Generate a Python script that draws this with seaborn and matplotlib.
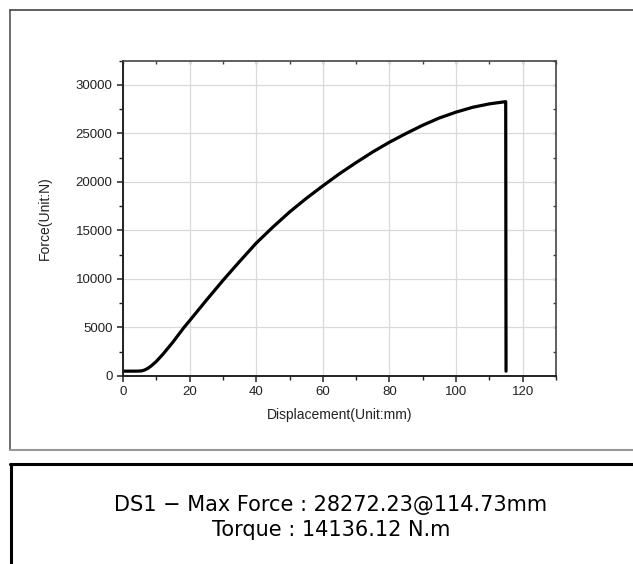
import matplotlib
matplotlib.use("Agg")
import matplotlib.pyplot as plt
from matplotlib.lines import Line2D
from matplotlib.ticker import MultipleLocator
import seaborn as sns
import pandas as pd

sns.set_theme(style="ticks")
plt.rcParams['font.family'] = ['Liberation Sans', 'DejaVu Sans']

# displacement (mm) / force (N)
displacement = [0, 2, 4, 5.5, 6.5, 7.5, 8.5, 10, 12, 15, 18.3, 20, 25, 30, 35, 40, 45, 50, 55,
                60, 65, 70, 75, 80, 85, 90, 95, 100, 105, 110, 114.73, 114.9, 115.0]
force = [500, 500, 500, 520, 620, 800, 1050, 1500, 2250, 3500, 5000, 5700, 7800, 9850, 11800,
         13700, 15350, 16900, 18300, 19600, 20850, 22000, 23100, 24100, 25000, 25850,
         26600, 27200, 27700, 28050, 28272.23, 28272.23, 500]

x_ticks = [0, 20, 40, 60, 80, 100, 120]
y_ticks = [0, 5000, 10000, 15000, 20000, 25000, 30000]

summary_line1 = "DS1 \u2212 Max Force : 28272.23@114.73mm"
summary_line2 = "Torque : 14136.12 N.m"

df = pd.DataFrame({'disp': displacement, 'force': force})

fig = plt.figure(figsize=(6.33, 5.64), dpi=100)
fig.patch.set_facecolor('white')
ax = fig.add_axes([123/633, 1 - 376/564, (556-123)/633, (376-60.7)/564])

sns.lineplot(data=df, x='disp', y='force', sort=False, estimator=None,
             color='black', linewidth=2.3, ax=ax)

ax.set_xlim(0, 130)
ax.set_ylim(0, 32500)
ax.set_xticks(x_ticks)
ax.set_yticks(y_ticks)
ax.xaxis.set_minor_locator(MultipleLocator(10))
ax.yaxis.set_minor_locator(MultipleLocator(2500))
ax.grid(True, which='major', color='#d9d9d9', linewidth=0.9)
ax.set_axisbelow(True)

ax.tick_params(axis='both', which='major', direction='out', length=4, width=1.1,
               labelsize=9.5, labelcolor='#222222', color='#222222')
ax.tick_params(axis='both', which='minor', direction='out', length=3, width=1.0, color='#222222')
for side in ['top', 'right']:
    ax.spines[side].set_color('#444444')
    ax.spines[side].set_linewidth(1.2)
for side in ['left', 'bottom']:
    ax.spines[side].set_color('#222222')
    ax.spines[side].set_linewidth(1.4)

# small inward ticks on the top and right frame
top = ax.secondary_xaxis('top')
top.set_xticks(x_ticks, labels=[])
top.xaxis.set_minor_locator(MultipleLocator(10))
top.tick_params(which='both', direction='in', length=2.5, width=1.0, color='#444444')
top.spines['top'].set_visible(False)
right = ax.secondary_yaxis('right')
right.set_yticks(y_ticks, labels=[])
right.yaxis.set_minor_locator(MultipleLocator(2500))
right.tick_params(which='both', direction='in', length=2.5, width=1.0, color='#444444')
right.spines['right'].set_visible(False)

ax.set_xlabel('Displacement(Unit:mm)', fontsize=10, color='#222222', labelpad=7)
ax.set_ylabel('Force(Unit:N)', fontsize=10, color='#222222', labelpad=17)

# outer frames
W, H = 633, 564
fig.add_artist(Line2D([10/W, 10/W], [1 - 10/H, 1 - 450/H], color='#555555', lw=1.2))
fig.add_artist(Line2D([10/W, 1], [1 - 10/H, 1 - 10/H], color='#444444', lw=1.2))
fig.add_artist(Line2D([10/W, 1], [1 - 450/H, 1 - 450/H], color='#999999', lw=1.5))
fig.add_artist(Line2D([11/W, 11/W], [1 - 464/H, 0], color='black', lw=2.2))
fig.add_artist(Line2D([10/W, 1], [1 - 464/H, 1 - 464/H], color='black', lw=2.2))

fig.text(331/W, 1 - 505/H, summary_line1, ha='center', va='center', fontsize=15,
         family=['DejaVu Sans'], color='black')
fig.text(331/W, 1 - 530/H, summary_line2, ha='center', va='center', fontsize=15,
         family=['DejaVu Sans'], color='black')

fig.savefig('out.png', dpi=100, facecolor='white')
